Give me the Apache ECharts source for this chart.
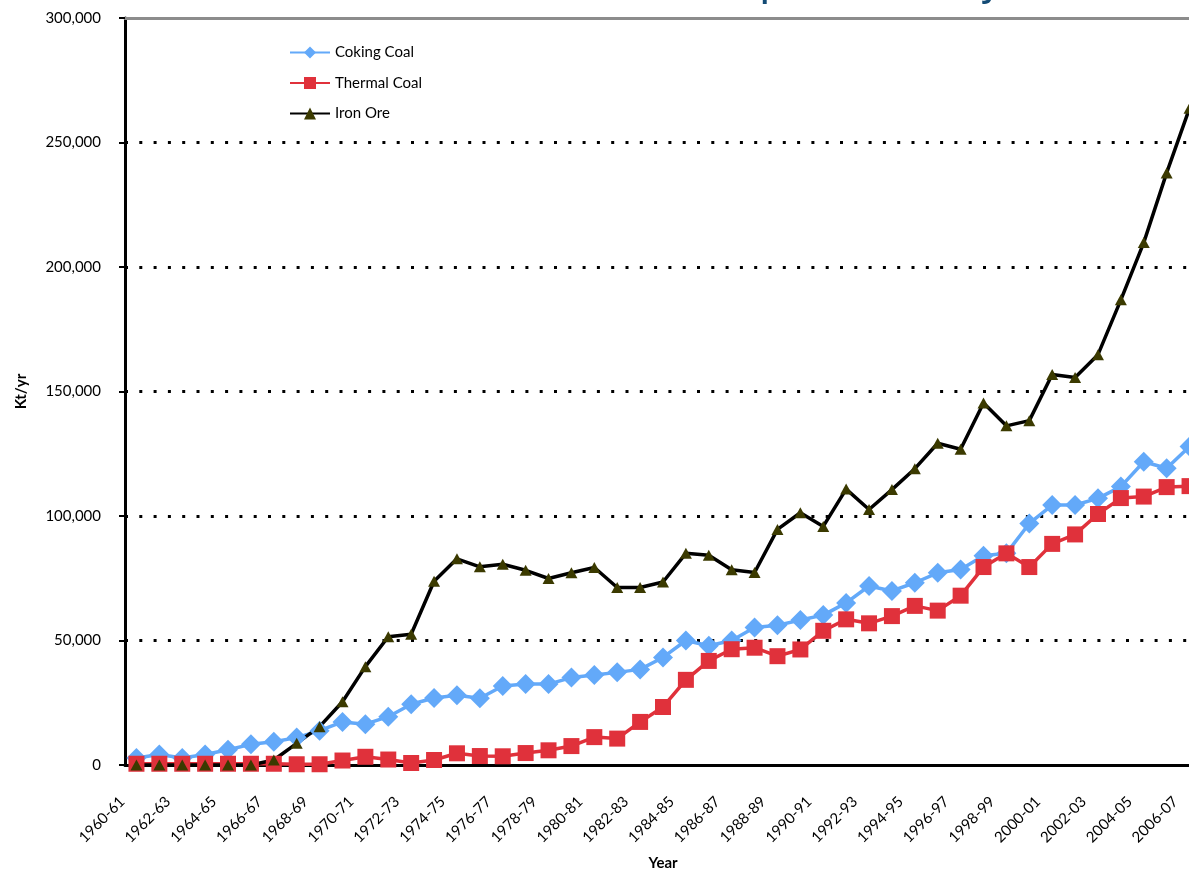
<!DOCTYPE html>
<html>
<head>
<meta charset="utf-8">
<title>Coal and iron ore exports</title>
<script src="https://cdn.jsdelivr.net/npm/echarts@6.0.0/dist/echarts.min.js"></script>
<style>
  html, body { margin: 0; padding: 0; background: #fff; }
  #chart { width: 1189px; height: 874px; }
</style>
</head>
<body>
<div id="chart"></div>
<script>
const years = [
  '1960-61', '1961-62', '1962-63', '1963-64', '1964-65', '1965-66', '1966-67', '1967-68',
  '1968-69', '1969-70', '1970-71', '1971-72', '1972-73', '1973-74', '1974-75', '1975-76',
  '1976-77', '1977-78', '1978-79', '1979-80', '1980-81', '1981-82', '1982-83', '1983-84',
  '1984-85', '1985-86', '1986-87', '1987-88', '1988-89', '1989-90', '1990-91', '1991-92',
  '1992-93', '1993-94', '1994-95', '1995-96', '1996-97', '1997-98', '1998-99', '1999-00',
  '2000-01', '2001-02', '2002-03', '2003-04', '2004-05', '2005-06', '2006-07'
];

// Kt/yr
const cokingCoal = [
  2800, 4200, 2800, 4200, 6100, 8300, 9300, 11000,
  13800, 17300, 16400, 19400, 24400, 26900, 28000, 26800,
  31700, 32500, 32500, 35100, 36100, 37200, 38400, 43200,
  50000, 47900, 50000, 55200, 56100, 58200, 60200, 65100,
  71900, 69900, 73200, 77200, 78500, 84000, 85000, 97000,
  104400, 104400, 107100, 111800, 121800, 119200, 127900
];
const thermalCoal = [
  500, 500, 500, 500, 500, 500, 500, 300,
  300, 1800, 3300, 2200, 800, 2000, 4700, 3600,
  3500, 4800, 5900, 7600, 11200, 10600, 17300, 23300,
  34200, 41800, 46500, 47100, 43700, 46400, 53900, 58500,
  56900, 59800, 63900, 62000, 68000, 79500, 85000, 79500,
  88800, 92600, 100800, 107200, 107800, 111600, 112000
];
const ironOre = [
  0, 0, 0, 0, 0, 0, 2000, 8700,
  15400, 25400, 39500, 51500, 52500, 73800, 82800, 79600,
  80600, 78200, 74900, 77200, 79300, 71300, 71300, 73500,
  85000, 84200, 78400, 77300, 94600, 101300, 95800, 110800,
  102600, 110600, 119000, 129200, 126800, 145400, 136200, 138300,
  156800, 155600, 164800, 186800, 209800, 237800, 263800
];
const yTicks = [0, 50000, 100000, 150000, 200000, 250000, 300000];

// the title is cut off at the top of the picture, only descenders of "p" and "y" show
const titleText = 'Coal and Iron Ore Exports Annually';
const ctx = document.createElement('canvas').getContext('2d');
ctx.font = '600 100px "Open Sans"';
const pAt = ctx.measureText('Coal and Iron Ore Ex').width;
const yAt = ctx.measureText('Coal and Iron Ore Exports Annuall').width;
const titleSize = Math.round(100 * 220 / (yAt - pAt));
const titleLeft = 760 - pAt * titleSize / 100;

const font = 'Lato';

const myChart = echarts.init(document.getElementById('chart'), null, { renderer: 'canvas' });

const option = {
  animation: false,
  backgroundColor: '#fff',
  graphic: [{
    type: 'text',
    x: titleLeft,
    y: -titleSize * 0.78 - 4,
    style: {
      text: titleText,
      font: '600 ' + titleSize + 'px "Open Sans"',
      fill: '#134B75'
    }
  }],
  legend: {
    orient: 'vertical',
    left: 289,
    top: 45,
    padding: 0,
    itemWidth: 40,
    itemHeight: 15,
    itemGap: 15.5,
    textStyle: { fontFamily: font, fontSize: 15, color: '#000' },
    data: ['Coking Coal', 'Thermal Coal', 'Iron Ore']
  },
  grid: {
    left: 125,
    width: 1076,  // the plot runs on past the right edge of the picture
    top: 18,
    bottom: 109,
    outerBoundsMode: 'none'
  },
  xAxis: [{
    type: 'category',
    data: years,
    boundaryGap: true,
    name: 'Year',
    nameLocation: 'middle',
    nameGap: 91,
    nameTextStyle: { fontFamily: font, fontSize: 15, fontWeight: 'bold', color: '#000' },
    axisLine: { lineStyle: { color: '#000', width: 3 } },
    axisTick: {
      interval: 0,
      alignWithLabel: false,
      length: 5,
      lineStyle: { color: '#000', width: 2 }
    },
    axisLabel: {
      interval: 1,
      rotate: 45,
      margin: 20,
      padding: [0, 20, 0, 0],
      fontFamily: font,
      fontSize: 15,
      color: '#000'
    },
    splitLine: { show: false }
  }, {
    // grey border along the top of the plot area
    type: 'category',
    position: 'top',
    data: years,
    axisLine: { lineStyle: { color: '#8C8C8C', width: 3 } },
    axisTick: { show: false },
    axisLabel: { show: false },
    splitLine: { show: false }
  }],
  yAxis: {
    type: 'value',
    min: yTicks[0],
    max: yTicks[yTicks.length - 1],
    interval: yTicks[1] - yTicks[0],
    name: 'Kt/yr',
    nameLocation: 'middle',
    nameGap: 96,
    nameTextStyle: { fontFamily: font, fontSize: 15, fontWeight: 'bold', color: '#000' },
    axisLine: { show: true, lineStyle: { color: '#000', width: 3 } },
    axisTick: { show: true, length: 6, lineStyle: { color: '#000', width: 2 } },
    axisLabel: {
      margin: 24,
      fontFamily: font,
      fontSize: 15,
      color: '#000',
      formatter: function (v) {
        return v.toLocaleString('en-US');
      }
    },
    splitLine: {
      show: true,
      lineStyle: { color: '#000', width: 3, type: [3, 11.3] }
    }
  },
  series: [
    {
      name: 'Coking Coal',
      type: 'line',
      data: cokingCoal,
      showAllSymbol: true,
      symbol: 'diamond',
      symbolSize: 20,
      lineStyle: { color: '#63A9F9', width: 3.5 },
      itemStyle: { color: '#63A9F9' }
    },
    {
      name: 'Thermal Coal',
      type: 'line',
      data: thermalCoal,
      showAllSymbol: true,
      symbol: 'rect',
      symbolSize: 16,
      lineStyle: { color: '#E0313B', width: 3.5 },
      itemStyle: { color: '#E0313B' }
    },
    {
      name: 'Iron Ore',
      type: 'line',
      data: ironOre,
      showAllSymbol: true,
      symbol: 'triangle',
      symbolSize: [12, 11],
      lineStyle: { color: '#000', width: 3.5 },
      itemStyle: { color: '#3B3A00' }
    }
  ]
};

myChart.setOption(option, true);
</script>
</body>
</html>
